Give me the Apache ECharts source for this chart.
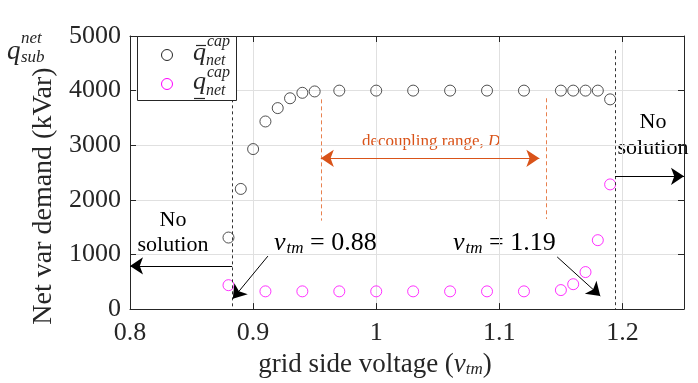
<!DOCTYPE html>
<html>
<head>
<meta charset="utf-8">
<script src="https://cdn.jsdelivr.net/npm/echarts@6/dist/echarts.min.js"></script>
<style>
  html, body { margin: 0; padding: 0; background: #fff; }
  #chart { width: 698px; height: 383px; }
</style>
</head>
<body>
<div id="chart"></div>
<script>
// upper bound of net capacitor var (black circles)
var vUpper = [0.88, 0.89, 0.90, 0.91, 0.92, 0.93, 0.94, 0.95, 0.97, 1.00, 1.03, 1.06, 1.09, 1.12, 1.15, 1.16, 1.17, 1.18, 1.19];
var qUpper = [1310, 2200, 2930, 3435, 3680, 3860, 3960, 3985, 4000, 4000, 4000, 4000, 4000, 4000, 4000, 4000, 4000, 4000, 3840];
// lower bound (magenta circles)
var vLower = [0.88, 0.91, 0.94, 0.97, 1.00, 1.03, 1.06, 1.09, 1.12, 1.15, 1.16, 1.17, 1.18, 1.19];
var qLower = [438, 325, 325, 325, 325, 325, 325, 325, 325, 348, 456, 678, 1262, 2283];

var xTicks = [0.8, 0.9, 1, 1.1, 1.2];
var yTicks = [0, 1000, 2000, 3000, 4000, 5000];

// annotation lines in data units [x1, y1, x2, y2]
var limitLines = [[0.883, 3840, 0.883, 0], [1.194, 4740, 1.194, 0]];
var decoupleLines = [[0.955, 3840, 0.955, 1620], [1.138, 3860, 1.138, 1650]];
var decoupleArrow = [0.955, 2760, 1.1325, 2760];
var noSolArrows = [[0.883, 790, 0.8, 790], [1.194, 2430, 1.25, 2430]];
var pointerArrows = [[0.912, 970, 0.8835, 190], [1.147, 955, 1.182, 240]];

var serif = 'Liberation Serif';
var ink = '#262626';
var magenta = '#ff00ff';

function pairs(xs, ys) {
    return xs.map(function (x, i) { return [x, ys[i]]; });
}

function seg(s, style, endSymbol, startSymbol) {
    return [
        { coord: [s[0], s[1]], symbol: startSymbol || 'none', symbolSize: 13, lineStyle: style },
        { coord: [s[2], s[3]], symbol: endSymbol || 'none', symbolSize: 13 }
    ];
}

var blackDash = { color: '#333', width: 1, type: [3, 3] };
var orangeDash = { color: '#e8804e', width: 1, type: [4, 3] };
var orangeSolid = { color: '#D95319', width: 1.2, type: 'solid' };
var blackSolid = { color: '#000', width: 1, type: 'solid' };

var marks = [];
limitLines.forEach(function (s) { marks.push(seg(s, blackDash)); });
decoupleLines.forEach(function (s) { marks.push(seg(s, orangeDash)); });
marks.push(seg(decoupleArrow, orangeSolid, 'arrow', 'arrow'));
noSolArrows.forEach(function (s) { marks.push(seg(s, blackSolid, 'arrow')); });
pointerArrows.forEach(function (s) { marks.push(seg(s, blackSolid, 'arrow')); });

var axisBase = {
    type: 'value',
    axisLine: { show: true, onZero: false, lineStyle: { color: ink, width: 1 } },
    axisTick: { show: true, inside: true, length: 6, lineStyle: { color: ink } }
};

function mathText(value) {
    return '{v|v}{s|tm}{t| = ' + value + '}';
}
var mathRich = {
    v: { fontFamily: serif, fontStyle: 'italic', fontSize: 26, color: '#000', lineHeight: 28 },
    s: { fontFamily: serif, fontStyle: 'italic', fontSize: 17, color: '#000', verticalAlign: 'bottom', lineHeight: 16, padding: [0, 0, 0, 1] },
    t: { fontFamily: serif, fontSize: 26, color: '#000', lineHeight: 28 }
};

function italic(text, x, y, size, color) {
    return {
        type: 'text', x: x, y: y, z: 101,
        style: { text: text, font: 'italic ' + size + 'px "Liberation Serif"', fill: color || ink, verticalAlign: 'middle' }
    };
}

// hand-drawn legend box (stacked super/subscripts)
var legendBox = [
    { type: 'rect', z: 100, shape: { x: 137.5, y: 36.5, width: 99, height: 64 }, style: { fill: '#fff', stroke: ink, lineWidth: 1 } },
    { type: 'circle', z: 101, shape: { cx: 167, cy: 55, r: 5.5 }, style: { fill: 'none', stroke: ink, lineWidth: 1 } },
    { type: 'circle', z: 101, shape: { cx: 167, cy: 84, r: 5.5 }, style: { fill: 'none', stroke: magenta, lineWidth: 1 } },
    italic('q', 193, 53, 26),
    { type: 'line', z: 101, shape: { x1: 196, y1: 45.5, x2: 206, y2: 45.5 }, style: { stroke: ink, lineWidth: 1.2 } },
    italic('cap', 207, 42, 16),
    italic('net', 206, 61, 16),
    italic('q', 193, 82, 26),
    { type: 'line', z: 101, shape: { x1: 194, y1: 98.5, x2: 205, y2: 98.5 }, style: { stroke: ink, lineWidth: 1.2 } },
    italic('cap', 207, 73, 16),
    italic('net', 206, 91, 16)
];

var option = {
    animation: false,
    backgroundColor: '#fff',
    grid: { left: 130, right: 14, top: 36, bottom: 70 },
    xAxis: [
        Object.assign({}, axisBase, {
            min: 0.8, max: 1.25, interval: 0.1, position: 'bottom',
            name: 'grid side voltage ({iv|v}{is|tm})',
            nameLocation: 'middle', nameGap: 35,
            nameTextStyle: {
                fontFamily: serif, fontSize: 27, color: ink, padding: [0, 64, 0, 0],
                rich: {
                    iv: { fontFamily: serif, fontStyle: 'italic', fontSize: 27, color: ink },
                    is: { fontFamily: serif, fontStyle: 'italic', fontSize: 17, color: ink, verticalAlign: 'bottom', padding: [10, 0, 0, 0] }
                }
            },
            axisLabel: {
                fontFamily: serif, fontSize: 26, color: ink, margin: 11,
                showMaxLabel: false,
                formatter: function (v) {
                    var hit = xTicks.filter(function (t) { return Math.abs(t - v) < 1e-6; });
                    return hit.length ? String(hit[0]) : '';
                }
            },
            splitLine: { show: true, lineStyle: { color: '#e0e0e0', width: 1 } }
        }),
        Object.assign({}, axisBase, {
            min: 0.8, max: 1.25, interval: 0.1, position: 'top',
            axisLabel: { show: false }, splitLine: { show: false }
        })
    ],
    yAxis: [
        Object.assign({}, axisBase, {
            min: 0, max: 5000, interval: 1000, position: 'left',
            name: 'Net var demand (kVar)',
            nameLocation: 'middle', nameGap: 70, nameRotate: 90,
            nameTextStyle: { fontFamily: serif, fontSize: 28, color: ink, padding: [0, 47, 0, 0] },
            axisLabel: {
                fontFamily: serif, fontSize: 26, color: ink, margin: 9,
                formatter: function (v) { return yTicks.indexOf(v) >= 0 ? String(v) : ''; }
            },
            splitLine: { show: true, lineStyle: { color: '#e0e0e0', width: 1 } }
        }),
        Object.assign({}, axisBase, {
            min: 0, max: 5000, interval: 1000, position: 'right',
            axisLabel: { show: false }, splitLine: { show: false }
        })
    ],
    series: [
        {
            name: 'upper',
            type: 'scatter',
            symbol: 'circle',
            symbolSize: 11,
            itemStyle: { color: 'rgba(255,255,255,0)', borderColor: ink, borderWidth: 1 },
            data: pairs(vUpper, qUpper),
            z: 3
        },
        {
            name: 'lower',
            type: 'scatter',
            symbol: 'circle',
            symbolSize: 11,
            itemStyle: { color: 'rgba(255,255,255,0)', borderColor: magenta, borderWidth: 1 },
            data: pairs(vLower, qLower),
            z: 3
        },
        {
            name: 'notes',
            type: 'scatter',
            data: [],
            silent: true,
            markLine: {
                silent: true,
                animation: false,
                symbol: ['none', 'none'],
                label: { show: false },
                emphasis: { disabled: true },
                data: marks
            }
        }
    ],
    graphic: legendBox.concat([
        { type: 'text', left: 7, top: 38, style: { text: 'q', font: 'italic 27px "Liberation Serif"', fill: ink } },
        { type: 'text', left: 21, top: 30, style: { text: 'net', font: 'italic 17px "Liberation Serif"', fill: ink } },
        { type: 'text', left: 21, top: 49, style: { text: 'sub', font: 'italic 17px "Liberation Serif"', fill: ink } },
        { type: 'text', x: 173, y: 208, style: { text: 'No\nsolution', font: '22px "Liberation Serif"', fill: '#000', align: 'center', lineHeight: 25 } },
        { type: 'text', x: 653, y: 109, style: { text: 'No\nsolution', font: '22px "Liberation Serif"', fill: '#000', align: 'center', lineHeight: 26 } },
        { type: 'text', left: 274, top: 230, style: { text: mathText('0.88'), rich: mathRich } },
        { type: 'text', left: 453, top: 230, style: { text: mathText('1.19'), rich: mathRich } },
        { type: 'text', left: 362, top: 133, style: {
            text: 'decoupling range, {d|D}', fill: '#D95319', font: '17px "Liberation Serif"',
            rich: { d: { fontFamily: serif, fontStyle: 'italic', fontSize: 17, color: '#D95319' } }
        } }
    ])
};

var chart = echarts.init(document.getElementById('chart'));
chart.setOption(option);
</script>
</body>
</html>
